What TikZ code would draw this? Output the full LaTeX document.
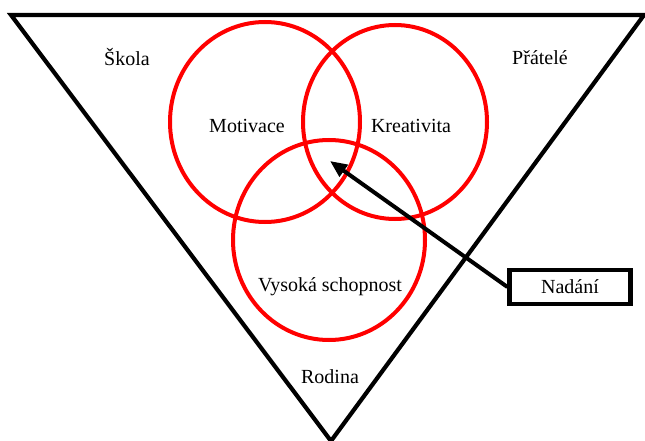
\documentclass[tikz,border=0pt]{standalone}
\usepackage{fontspec}
\setmainfont{Liberation Serif}
\usetikzlibrary{arrows.meta}

\begin{document}
\begin{tikzpicture}[x=1pt, y=-1pt,
    label text/.style={font=\fontsize{20}{22}\selectfont, inner sep=0pt},
    ring/.style={draw=red, line width=4pt},
    frame/.style={draw=black, line width=4.2pt}]
  \useasboundingbox (0,0) rectangle (645,441);
  \coordinate (TL) at (11, 15);
  \coordinate (TR) at (644, 15);
  \coordinate (BV) at (331, 441);
  \coordinate (Tip) at (330, 161);

  % triangle
  \draw[frame, line join=miter] (TL) -- (TR) -- (BV) -- cycle;

  % circles
  \draw[ring] (265, 122) ellipse (95 and 100);
  \draw[ring] (395, 122) ellipse (92 and 97);
  \draw[ring] (329, 240) ellipse (96 and 100);

  \node[label text] (skola) at (127, 57) {Škola};
  \node[label text] (pratele) at (540, 58) {Přátelé};
  \node[label text] (motivace) at (247, 126) {Motivace};
  \node[label text] (kreativita) at (411, 126) {Kreativita};
  \node[label text] (schopnost) at (330, 287) {Vysoká schopnost};
  \node[label text] (rodina) at (330, 377) {Rodina};
  \node[label text, frame, minimum width=121pt, minimum height=34pt]
    (nadani) at (570, 287) {Nadání};

  \draw[line width=4pt, -{Triangle[length=17pt, width=14pt]}]
    (nadani.west) -- (Tip);
\end{tikzpicture}
\end{document}
